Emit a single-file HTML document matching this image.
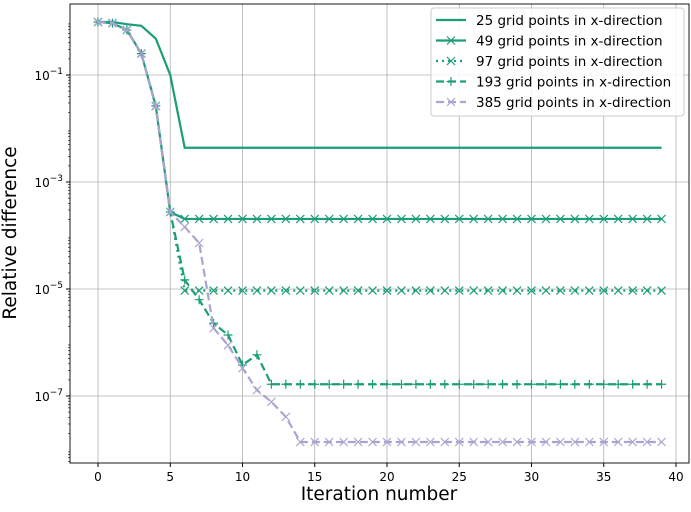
<!DOCTYPE html>
<html><head><meta charset="utf-8"><style>
body{margin:0;background:#fff}
svg{font-family:"DejaVu Sans","Liberation Sans",sans-serif}
</style></head><body>
<svg id="c" width="691" height="507"></svg>
<script>
const iterations = Array.from({length:40},(_,i)=>i);
const head = [-0.01,-0.03,-0.16,-0.6,-1.58,-3.56];
const s25log = [-0.01,-0.01,-0.05,-0.08,-0.32,-1.0,-2.36];
const s49log = head.concat([-3.69]);
const s97log = head.concat([-5.03]);
const s193log = head.concat([-4.83,-5.2,-5.64,-5.86,-6.42,-6.23,-6.78]);
const s385log = head.concat([-3.84,-4.14,-5.73,-6.05,-6.48,-6.89,-7.11,-7.39,-7.86]);
const xTicks = [0,5,10,15,20,25,30,35,40];
const yTicks = [-1,-3,-5,-7];
const legendLabels = ["25 grid points in x-direction","49 grid points in x-direction","97 grid points in x-direction","193 grid points in x-direction","385 grid points in x-direction"];

function fill(a){const r=a.slice();while(r.length<40)r.push(a[a.length-1]);return r;}
const NS="http://www.w3.org/2000/svg";
const svg=document.getElementById('c');
function el(t,at,p){const e=document.createElementNS(NS,t);for(const k in at)e.setAttribute(k,at[k]);(p||svg).appendChild(e);return e;}
const L=70,R=689,T=4,B=463;
const xs=v=>98+v*14.45;
const ys=lg=>21.5-lg*53.5;
xTicks.forEach(t=>{const g=el('line',{x1:xs(t),x2:xs(t),y1:T,y2:B,stroke:'#b0b0b0','stroke-width':0.8});
});
yTicks.forEach(t=>{const g=el('line',{x1:L,x2:R,y1:ys(t),y2:ys(t),stroke:'#b0b0b0','stroke-width':0.8});
});
xTicks.forEach(t=>{el('line',{x1:xs(t),x2:xs(t),y1:B,y2:B+4,stroke:'#000'});
const tx=el('text',{x:xs(t),y:B+18,'text-anchor':'middle','font-size':12});tx.textContent=t;
});
yTicks.forEach(t=>{el('line',{x1:L-4,x2:L,y1:ys(t),y2:ys(t),stroke:'#000'});
const tx=el('text',{x:L-7,y:ys(t)+5,'text-anchor':'end','font-size':12});
tx.innerHTML='10<tspan dy="-6" font-size="9">\u2212'+(-t)+'</tspan>';
});
for(let d=0;d>=-8;d--)for(let m=2;m<10;m++){const y=ys(d-1+Math.log10(m));if(y>T&&y<B)el('line',{x1:L-2,x2:L,y1:y,y2:y,stroke:'#000','stroke-width':0.6});}
const G='#1b9e77',P='#aaa4d0';
const series=[
 {d:s25log,c:G,dash:'',m:null,n:'series-25'},
 {d:s49log,c:G,dash:'',m:'x',n:'series-49'},
 {d:s97log,c:G,dash:'2,4',m:'x',n:'series-97'},
 {d:s193log,c:G,dash:'8,4',m:'+',n:'series-193'},
 {d:s385log,c:P,dash:'8,4',m:'x',n:'series-385'}];
function marker(g,type,x,y,c){
 if(type==='x'){el('path',{d:`M${x-4} ${y-4}L${x+4} ${y+4}M${x-4} ${y+4}L${x+4} ${y-4}`,stroke:c,'stroke-width':1.2,fill:'none'},g);}
 else if(type==='+'){el('path',{d:`M${x-4.5} ${y}L${x+4.5} ${y}M${x} ${y-4.5}L${x} ${y+4.5}`,stroke:c,'stroke-width':1.2,fill:'none'},g);}
}
series.forEach(s=>{
 const g=el('g',{});
 const v=fill(s.d);
 const pts=v.map((lg,i)=>xs(iterations[i])+','+ys(lg)).join(' ');
 el('polyline',{points:pts,fill:'none',stroke:s.c,'stroke-width':2.2,'stroke-dasharray':s.dash},g);
 if(s.m)v.forEach((lg,i)=>marker(g,s.m,xs(iterations[i]),ys(lg),s.c));
});
el('rect',{x:L,y:T,width:R-L,height:B-T,fill:'none',stroke:'#000','stroke-width':0.9});
const xt=el('text',{x:379,y:500,'text-anchor':'middle','font-size':18.5});xt.textContent='Iteration number';

const yt=el('text',{x:16,y:233,'text-anchor':'middle','font-size':18.5,transform:'rotate(-90 16 233)'});yt.textContent='Relative difference';

const lg=el('g',{});
el('rect',{x:431,y:8,width:253,height:108,rx:3,fill:'#fff','fill-opacity':0.85,stroke:'#ccc'},lg);
series.forEach((s,i)=>{
 const y=20+i*20.5;
 const e=el('g',{},lg);
 el('line',{x1:436,x2:466,y1:y,y2:y,stroke:s.c,'stroke-width':2.2,'stroke-dasharray':s.dash},e);
 if(s.m)marker(e,s.m,451,y,s.c);
 const t=el('text',{x:476,y:y+5,'font-size':13.5},e);t.textContent=legendLabels[i];
});
</script>
</body></html>
